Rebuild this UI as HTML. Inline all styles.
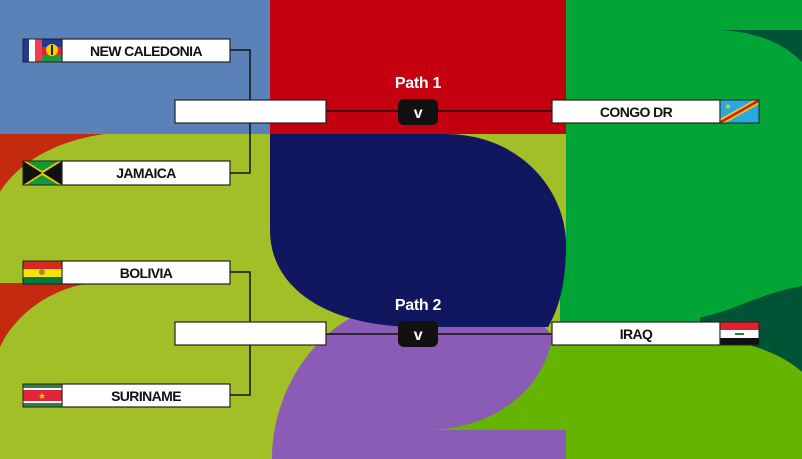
<!DOCTYPE html>
<html><head><meta charset="utf-8"><style>
html,body{margin:0;padding:0;width:802px;height:459px;overflow:hidden;background:#a3bf28}
svg{display:block}
.t{font-family:"Liberation Sans",sans-serif;font-weight:bold;font-size:14px;fill:#111;letter-spacing:-0.6px}
.p{font-family:"Liberation Sans",sans-serif;font-weight:bold;font-size:16px;fill:#fff;letter-spacing:-0.3px}
</style></head><body>
<svg width="802" height="459" viewBox="0 0 802 459" xmlns="http://www.w3.org/2000/svg">
<rect x="0" y="0" width="802" height="459" fill="#a3bf28"/>
<path d="M0,134 H105 C60,140 20,160 0,192 Z" fill="#c42a10"/>
<path d="M0,283 H92 C50,288 15,315 0,347 Z" fill="#c42a10"/>
<rect x="566" y="0" width="236" height="340" fill="#00a535"/>
<path d="M720,30 H802 V62 C785,45 760,32 720,30 Z" fill="#005435"/>
<rect x="700" y="270" width="102" height="110" fill="#005435"/>
<path d="M560,330 C640,330 700,322 740,305 C770,293 790,288 802,286 V240 H560 Z" fill="#00a535"/>
<path d="M430,459 V336 H690 C740,338 780,352 802,372 V459 Z" fill="#65b500"/>
<path d="M272,459 C272,380 330,300 420,300 C500,300 552,320 552,340 C540,395 490,428 430,430 H566 V459 Z" fill="#8a5cb5"/>
<path d="M270,134 H445 C520,134 566,190 566,245 C566,292 555,315 548,327 L418,327 C330,327 270,290 270,230 Z" fill="#11175e"/>
<rect x="0" y="0" width="270" height="134" fill="#5b82b8"/>
<rect x="270" y="0" width="296" height="134" fill="#c40010"/>
<g stroke="#111" stroke-width="1.5" fill="none">
<path d="M230,50 H250 V173 H230"/>
<path d="M230,272 H250 V395 H230"/>
<line x1="326" y1="111" x2="552" y2="111"/>
<line x1="326" y1="334" x2="552" y2="334"/>
</g>
<g stroke="#222" stroke-width="1.2">
<rect x="62" y="39" width="168" height="23" fill="#fff"/>
<rect x="62" y="161" width="168" height="24" fill="#fff"/>
<rect x="62" y="261" width="168" height="23" fill="#fff"/>
<rect x="62" y="384" width="168" height="23" fill="#fff"/>
<rect x="175" y="100" width="151" height="23" fill="#fff"/>
<rect x="175" y="322" width="151" height="23" fill="#fff"/>
<rect x="552" y="100" width="168" height="23" fill="#fff"/>
<rect x="552" y="322" width="168" height="23" fill="#fff"/>
</g>
<g>
<rect x="23" y="39" width="13" height="23" fill="#1f3a93"/><rect x="29" y="39" width="6" height="23" fill="#fff"/><rect x="35" y="39" width="7" height="23" fill="#ef4050"/>
<rect x="42" y="39" width="20" height="8" fill="#1f3a93"/><rect x="42" y="47" width="20" height="8" fill="#e0243a"/><rect x="42" y="55" width="20" height="7" fill="#1c9a3a"/>
<circle cx="52" cy="50" r="6" fill="#f5d300"/><rect x="51" y="45" width="2" height="10" fill="#222"/>
<rect x="23" y="161" width="39" height="24" fill="#f5c400"/>
<polygon points="23,161 42,173 23,185" fill="#111"/><polygon points="62,161 43,173 62,185" fill="#111"/>
<polygon points="26,161 59,161 42,171" fill="#0e9a3a"/><polygon points="26,185 59,185 42,175" fill="#0e9a3a"/>
<rect x="23" y="261" width="39" height="8" fill="#d52b1e"/><rect x="23" y="269" width="39" height="8" fill="#f9e300"/><rect x="23" y="277" width="39" height="7" fill="#007a3d"/>
<circle cx="42" cy="272" r="3" fill="#b0852a"/>
<rect x="23" y="384" width="39" height="23" fill="#377e3f"/><rect x="23" y="388" width="39" height="15" fill="#fff"/><rect x="23" y="390" width="39" height="11" fill="#e0243a"/>
<text x="42" y="399" font-size="9" fill="#f5d300" text-anchor="middle">★</text>
<rect x="720" y="100" width="39" height="23" fill="#2aa9e0"/>
<polygon points="720,119 754,100 759,100 759,104 725,123 720,123" fill="#f5d300"/>
<polygon points="720,121 757,100 759,100 759,102 722,123 720,123" fill="#d0202a"/>
<text x="728" y="109" font-size="8" fill="#f5d300" text-anchor="middle">★</text>
<rect x="720" y="322" width="39" height="8" fill="#e0202a"/><rect x="720" y="330" width="39" height="8" fill="#fff"/><rect x="720" y="338" width="39" height="7" fill="#111"/>
<rect x="735" y="333" width="9" height="2" fill="#1a8a3a"/>
</g>
<g stroke="#222" stroke-width="1" fill="none">
<rect x="23" y="39" width="39" height="23"/><rect x="23" y="161" width="39" height="24"/><rect x="23" y="261" width="39" height="23"/><rect x="23" y="384" width="39" height="23"/><rect x="720" y="100" width="39" height="23"/><rect x="720" y="322" width="39" height="23"/>
</g>
<text class="t" x="146" y="56" text-anchor="middle">NEW CALEDONIA</text>
<text class="t" x="146" y="178" text-anchor="middle">JAMAICA</text>
<text class="t" x="146" y="278" text-anchor="middle">BOLIVIA</text>
<text class="t" x="146" y="401" text-anchor="middle">SURINAME</text>
<text class="t" x="636" y="117" text-anchor="middle">CONGO DR</text>
<text class="t" x="636" y="339" text-anchor="middle">IRAQ</text>
<text class="p" x="418" y="88" text-anchor="middle">Path 1</text>
<text class="p" x="418" y="310" text-anchor="middle">Path 2</text>
<rect x="398" y="99" width="40" height="26" rx="6" fill="#111"/>
<rect x="398" y="321" width="40" height="26" rx="6" fill="#111"/>
<text class="p" x="418" y="118" text-anchor="middle">v</text>
<text class="p" x="418" y="340" text-anchor="middle">v</text>
</svg>
</body></html>
